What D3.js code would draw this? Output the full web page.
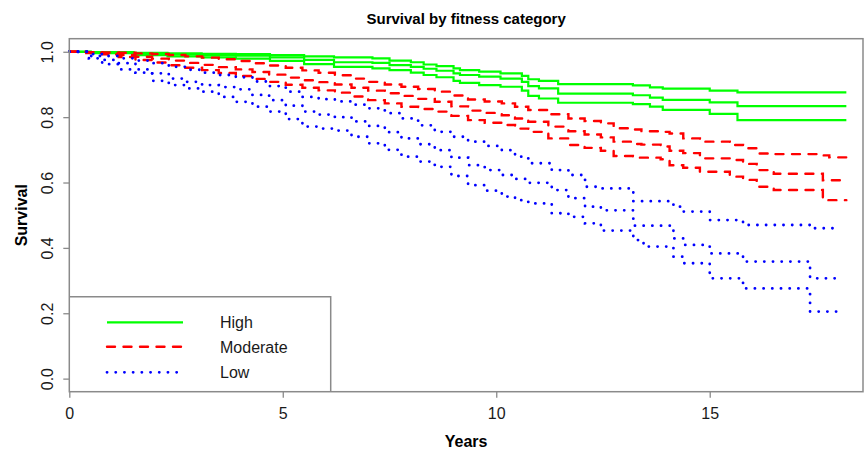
<!DOCTYPE html>
<html>
<head>
<meta charset="utf-8">
<script src="https://cdn.jsdelivr.net/npm/d3@7"></script>
<style>
	body { margin: 0; background: white; }
	svg { display: block; font-family: 'Liberation Sans', Arial, sans-serif; }
</style>
</head>
<body>
<div id="container"></div>
<script>
'use strict';

// survival curves (years, survival)
let highTimes = [0, 0.5, 1.5, 2.3, 3.1, 3.9, 4.7, 5.5, 6.2, 7.1, 7.5, 8.0, 8.3, 8.6, 9.0, 9.15, 9.6, 10.1, 10.6, 10.75, 11.0, 11.45, 13.2, 13.6, 13.9, 15.0, 15.65, 18.2];
let highUpper = [1, 0.999, 0.997, 0.995, 0.994, 0.993, 0.990, 0.986, 0.983, 0.980, 0.973, 0.968, 0.961, 0.956, 0.949, 0.944, 0.939, 0.934, 0.926, 0.916, 0.911, 0.901, 0.897, 0.891, 0.887, 0.881, 0.876, 0.876];
let highEst = [1, 0.998, 0.994, 0.992, 0.990, 0.988, 0.983, 0.975, 0.968, 0.966, 0.959, 0.954, 0.948, 0.942, 0.934, 0.929, 0.924, 0.918, 0.908, 0.895, 0.888, 0.872, 0.867, 0.860, 0.853, 0.845, 0.834, 0.834];
let highLower = [1, 0.996, 0.990, 0.986, 0.983, 0.979, 0.972, 0.962, 0.954, 0.949, 0.944, 0.936, 0.929, 0.922, 0.911, 0.905, 0.898, 0.893, 0.881, 0.865, 0.857, 0.844, 0.840, 0.832, 0.822, 0.810, 0.791, 0.791];

let modTimes = [0, 0.4, 0.77, 1.16, 1.55, 1.94, 2.33, 2.72, 3.11, 3.5, 3.9, 4.29, 4.68, 5.07, 5.46, 5.84, 6.22, 6.61, 7.0, 7.39, 7.78, 8.17, 8.56, 8.95, 9.34, 9.73, 10.13, 10.44, 10.75, 11.22, 11.69, 12.07, 12.45,
	12.75, 13.2, 13.4, 13.85, 14.06, 14.38, 14.77, 15.47, 15.78, 16.1, 16.5, 17.65, 17.8, 18.2];
let modUpper = [1, 0.999, 0.998, 0.997, 0.995, 0.993, 0.990, 0.986, 0.982, 0.977, 0.972, 0.965, 0.958, 0.951, 0.943, 0.936, 0.928, 0.918, 0.908, 0.900, 0.893, 0.886, 0.878, 0.866, 0.854, 0.848, 0.842, 0.832, 0.822, 0.809, 0.796, 0.788, 0.781,
	0.766, 0.762, 0.757, 0.755, 0.750, 0.735, 0.725, 0.715, 0.705, 0.689, 0.687, 0.683, 0.677, 0.677];
let modEst = [1, 0.998, 0.995, 0.990, 0.985, 0.979, 0.973, 0.966, 0.960, 0.953, 0.946, 0.938, 0.930, 0.921, 0.913, 0.907, 0.900, 0.890, 0.881, 0.873, 0.865, 0.856, 0.847, 0.833, 0.820, 0.813, 0.806, 0.796, 0.786, 0.771, 0.757, 0.747, 0.738,
	0.725, 0.718, 0.716, 0.710, 0.697, 0.690, 0.674, 0.669, 0.657, 0.638, 0.627, 0.607, 0.607, 0.607];
let modLower = [1, 0.996, 0.992, 0.984, 0.975, 0.967, 0.959, 0.951, 0.944, 0.935, 0.926, 0.917, 0.908, 0.899, 0.890, 0.882, 0.875, 0.863, 0.852, 0.842, 0.832, 0.825, 0.817, 0.804, 0.791, 0.783, 0.776, 0.765, 0.755, 0.735, 0.715, 0.706, 0.697,
	0.681, 0.676, 0.676, 0.671, 0.653, 0.645, 0.633, 0.618, 0.608, 0.587, 0.577, 0.546, 0.546, 0.546];

let lowTimes = [0, 0.46, 0.77, 1.16, 1.55, 1.94, 2.33, 2.72, 3.11, 3.5, 3.9, 4.29, 4.68, 5.07, 5.46, 5.84, 6.22, 6.61, 7.0, 7.39, 7.78, 8.17, 8.56, 8.95, 9.34, 9.73, 10.13, 10.44, 10.75, 11.3, 11.69, 12.08, 12.45,
	13.21, 13.45, 14.15, 14.38, 15.0, 15.78, 17.35, 18.0];
let lowUpper = [1, 0.993, 0.987, 0.980, 0.973, 0.965, 0.954, 0.945, 0.936, 0.929, 0.922, 0.909, 0.895, 0.878, 0.862, 0.855, 0.848, 0.838, 0.827, 0.812, 0.796, 0.775, 0.755, 0.740, 0.725, 0.712, 0.699, 0.679, 0.659, 0.638, 0.623, 0.587, 0.582,
	0.543, 0.543, 0.526, 0.511, 0.485, 0.470, 0.460, 0.460];
let lowEst = [1, 0.987, 0.975, 0.965, 0.946, 0.934, 0.918, 0.908, 0.898, 0.892, 0.885, 0.868, 0.852, 0.835, 0.817, 0.808, 0.800, 0.787, 0.773, 0.754, 0.735, 0.717, 0.699, 0.676, 0.653, 0.638, 0.623, 0.611, 0.599, 0.577, 0.552, 0.526, 0.515,
	0.468, 0.468, 0.429, 0.409, 0.383, 0.358, 0.307, 0.307];
let lowLower = [1, 0.980, 0.962, 0.946, 0.936, 0.911, 0.898, 0.888, 0.878, 0.862, 0.847, 0.832, 0.817, 0.794, 0.771, 0.765, 0.759, 0.740, 0.720, 0.700, 0.679, 0.664, 0.648, 0.620, 0.592, 0.575, 0.557, 0.546, 0.536, 0.506, 0.495, 0.475, 0.453,
	0.424, 0.404, 0.373, 0.353, 0.307, 0.276, 0.205, 0.205];

let groupNames = ['High', 'Moderate', 'Low'];
let xTicks = [0, 5, 10, 15];
let yTicks = [0, 0.2, 0.4, 0.6, 0.8, 1.0];

window.onload = function () {
	let options = {
		width: 864,
		height: 452,
		left: 69.3,
		right: 863,
		top: 38.7,
		bottom: 391.7,
		boxColor: '#8a8a8a',
	};

	let groups = [
		{ name: groupNames[0], color: '#00ff00', dash: null, width: 2.2, times: highTimes, lines: [highUpper, highEst, highLower] },
		{ name: groupNames[1], color: '#ff0000', dash: '8,8.5', width: 2.4, times: modTimes, lines: [modUpper, modEst, modLower] },
		{ name: groupNames[2], color: '#0000ff', dash: '0.1,8.6', width: 2.8, times: lowTimes, lines: [lowUpper, lowEst, lowLower] },
	];

	let svg = d3.select('#container')
		.append('svg')
		.attr('width', options.width)
		.attr('height', options.height);

	let x = d3.scaleLinear().domain([0, 18.59]).range([options.left, options.right]);
	let y = d3.scaleLinear().domain([-0.04, 1.04]).range([options.bottom, options.top]);

	// curves
	let line = d3.line()
		.x((d) => x(d[0]))
		.y((d) => y(d[1]))
		.curve(d3.curveStepAfter);

	groups.forEach((g) => {
		g.lines.forEach((vals) => {
			let pts = g.times.map((t, i) => [t, vals[i]]);
			svg.append('path')
				.datum(pts)
				.attr('d', line)
				.attr('fill', 'none')
				.attr('stroke', g.color)
				.attr('stroke-width', g.width)
				.attr('stroke-linecap', g.dash ? 'round' : 'butt')
				.attr('stroke-dasharray', g.dash);
		});
	});

	// axes
	let xAxis = svg.append('g')
		.attr('transform', 'translate(0,' + options.bottom + ')')
		.call(d3.axisBottom(x).tickValues(xTicks).tickSize(6).tickFormat(d3.format('d')));
	xAxis.selectAll('text')
		.attr('y', 27)
		.attr('dy', 0)
		.attr('font-size', 16)
		.attr('fill', '#1a1a1a');

	let yAxis = svg.append('g')
		.attr('transform', 'translate(' + options.left + ',0)')
		.call(d3.axisLeft(y).tickValues(yTicks).tickSize(6).tickFormat(d3.format('.1f')));
	yAxis.selectAll('text')
		.attr('transform', 'rotate(-90)')
		.attr('x', 0)
		.attr('y', -16)
		.attr('dy', 0)
		.attr('text-anchor', 'middle')
		.attr('font-size', 16)
		.attr('fill', '#1a1a1a');

	svg.selectAll('.domain').remove();
	svg.selectAll('.tick line').attr('stroke', options.boxColor).attr('stroke-width', 1.3);

	// box
	svg.append('rect')
		.attr('x', options.left)
		.attr('y', options.top)
		.attr('width', options.right - options.left)
		.attr('height', options.bottom - options.top)
		.attr('fill', 'none')
		.attr('stroke', options.boxColor)
		.attr('stroke-width', 1.5);

	// titles
	svg.append('text')
		.attr('x', (options.left + options.right) / 2)
		.attr('y', 24)
		.attr('text-anchor', 'middle')
		.attr('font-size', 15)
		.attr('font-weight', 'bold')
		.text('Survival by fitness category');

	svg.append('text')
		.attr('x', (options.left + options.right) / 2)
		.attr('y', 447)
		.attr('text-anchor', 'middle')
		.attr('font-size', 16)
		.attr('font-weight', 'bold')
		.text('Years');

	svg.append('text')
		.attr('transform', 'translate(27,' + (options.top + options.bottom) / 2 + ') rotate(-90)')
		.attr('text-anchor', 'middle')
		.attr('font-size', 16)
		.attr('font-weight', 'bold')
		.text('Survival');

	// legend
	let legendRight = 330.7;
	let legendTop = 296.7;
	svg.append('path')
		.attr('d', 'M' + options.left + ',' + legendTop + 'H' + legendRight + 'V' + options.bottom)
		.attr('fill', 'none')
		.attr('stroke', options.boxColor)
		.attr('stroke-width', 1.5);

	let rowY = [322.3, 346.8, 372.3];
	let lineEnd = [183, 183, 178];
	groups.forEach((g, i) => {
		svg.append('line')
			.attr('x1', 107)
			.attr('x2', lineEnd[i])
			.attr('y1', rowY[i])
			.attr('y2', rowY[i])
			.attr('stroke', g.color)
			.attr('stroke-width', g.width)
			.attr('stroke-linecap', g.dash ? 'round' : 'butt')
			.attr('stroke-dasharray', g.dash);
		svg.append('text')
			.attr('x', 220)
			.attr('y', rowY[i])
			.attr('dy', '0.36em')
			.attr('font-size', 16)
			.attr('fill', '#1a1a1a')
			.text(g.name);
	});
};
</script>
</body>
</html>
